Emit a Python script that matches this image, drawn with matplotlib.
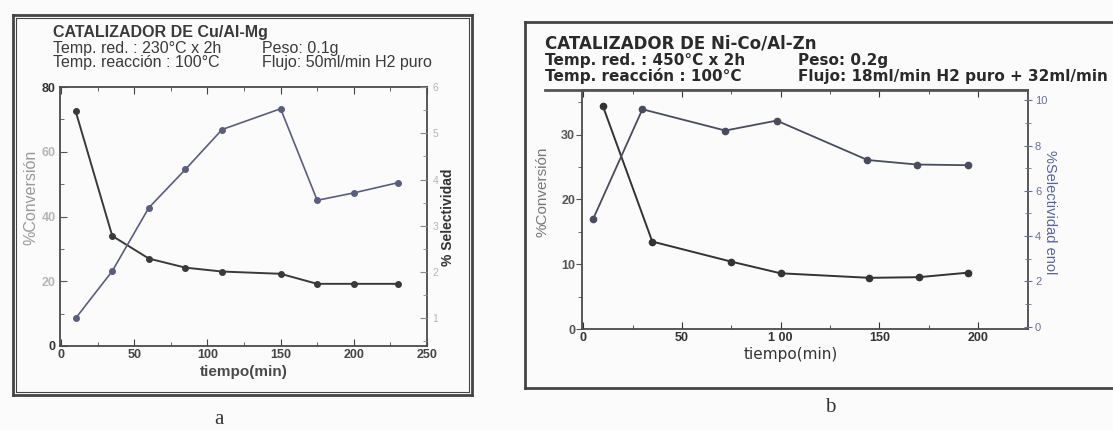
import matplotlib
matplotlib.use("Agg")
import matplotlib.pyplot as plt
from matplotlib.lines import Line2D
from matplotlib.ticker import MultipleLocator

plt.rcParams['font.family'] = ['Liberation Sans', 'DejaVu Sans']

# ---- Data: chart a (Cu/Al-Mg) ----
a_time_conv = [10, 35, 60, 85, 110, 150, 175, 200, 230]
a_conversion = [72.5, 34.0, 27.0, 24.2, 23.0, 22.3, 19.2, 19.2, 19.2]
a_time_sel = [10, 35, 60, 85, 110, 150, 175, 200, 230]
a_selectivity = [1.0, 2.02, 3.39, 4.22, 5.08, 5.53, 3.55, 3.71, 3.93]

# ---- Data: chart b (Ni-Co/Al-Zn) ----
b_time_conv = [10, 35, 75, 100, 145, 170, 195]
b_conversion = [34.4, 13.5, 10.4, 8.6, 7.9, 8.0, 8.7]
b_time_sel = [5, 30, 72, 98, 144, 169, 195]
b_selectivity = [4.75, 9.6, 8.66, 9.1, 7.36, 7.16, 7.13]

a_header = ["CATALIZADOR DE Cu/Al-Mg",
            "Temp. red. : 230°C x 2h", "Temp. reacción : 100°C",
            "Peso: 0.1g", "Flujo: 50ml/min H2 puro"]
b_header = ["CATALIZADOR DE Ni-Co/Al-Zn",
            "Temp. red. : 450°C x 2h", "Temp. reacción : 100°C",
            "Peso: 0.2g", "Flujo: 18ml/min H2 puro + 32ml/min"]

W, H = 1113, 430
fig = plt.figure(figsize=(W / 100, H / 100), dpi=100)
fig.patch.set_facecolor('#fbfbfb')

WIDE = ['DejaVu Sans']


def fx(px):
    return px / W


def fy(py):
    return 1 - py / H


def axes_px(l, r, t, b):
    return [fx(l), fy(b), (r - l) / W, (b - t) / H]


def hline(x0, x1, y, lw=1.5, c='#555555'):
    fig.add_artist(Line2D([fx(x0), fx(x1)], [fy(y), fy(y)], transform=fig.transFigure, lw=lw, color=c))


def vline(x, y0, y1, lw=1.5, c='#555555'):
    fig.add_artist(Line2D([fx(x), fx(x)], [fy(y0), fy(y1)], transform=fig.transFigure, lw=lw, color=c))


# ---------------- Chart a ----------------
for off, lw in [(0, 2.0), (3, 0.8)]:
    hline(13 + off, 472 - off, 15 + off, lw, '#444444')
    hline(13 + off, 472 - off, 395 - off, lw, '#444444')
    vline(13 + off, 15 + off, 395 - off, lw, '#444444')
    vline(472 - off, 15 + off, 395 - off, lw, '#444444')

ca = '#3a3a3a'
fig.text(fx(53), fy(32), a_header[0], fontsize=11.5, fontweight='bold', color=ca, va='center')
fig.text(fx(53), fy(48), a_header[1], fontsize=11.5, color=ca, va='center')
fig.text(fx(53), fy(63), a_header[2], fontsize=11.5, color=ca, va='center')
fig.text(fx(262), fy(48), a_header[3], fontsize=11.5, color=ca, va='center')
fig.text(fx(262), fy(63), a_header[4], fontsize=11.5, color=ca, va='center')

axa = fig.add_axes(axes_px(60, 427, 87, 346))
axa.set_facecolor('none')
axa.plot(a_time_conv, a_conversion, '-o', color='#3a3a3a', lw=1.4, ms=4)
axa.set_xlim(-0.7, 250)
axa.set_ylim(0, 80)
axa.xaxis.set_major_locator(MultipleLocator(50))
axa.xaxis.set_minor_locator(MultipleLocator(25))
axa.yaxis.set_minor_locator(MultipleLocator(10))
axa.tick_params(axis='x', which='both', direction='in', top=True, labelsize=9, colors='#444444', pad=2)
axa.tick_params(axis='x', which='major', length=5)
axa.tick_params(axis='x', which='minor', length=3)
axa.tick_params(axis='y', which='both', direction='in', labelsize=9, colors='#555555', pad=3)
axa.tick_params(axis='y', which='major', length=5)
axa.tick_params(axis='y', which='minor', length=3)
axa.set_yticks([0, 20, 40, 60, 80])
for lab in axa.get_xticklabels():
    lab.set_fontweight('bold')
for lab, v in zip(axa.get_yticklabels(), [0, 20, 40, 60, 80]):
    lab.set_fontweight('bold')
    lab.set_color('#333333' if v in (0, 80) else '#b5b5b5')
for sp in axa.spines.values():
    sp.set_color('#4a4a4a')
    sp.set_linewidth(1.3)
axa.set_xlabel('tiempo(min)', fontsize=11, fontweight='bold', color='#4a4a4a', labelpad=3)
axa.set_ylabel('%Conversión', fontsize=11.5, color='#999999')
axa.yaxis.set_label_coords(-0.058, 0.575)

axa2 = axa.twinx()
axa2.plot(a_time_sel, a_selectivity, '-o', color='#5a5d7e', lw=1.2, ms=4)
axa2.set_ylim(0.4, 6)
axa2.yaxis.set_major_locator(MultipleLocator(1))
axa2.yaxis.set_minor_locator(MultipleLocator(0.5))
axa2.tick_params(axis='y', which='both', direction='in', labelsize=7.5, colors='#b5b5b5', pad=4)
axa2.tick_params(axis='y', which='major', length=5)
axa2.tick_params(axis='y', which='minor', length=3)
axa2.tick_params(axis='y', which='both', color='#888888')
for sp in axa2.spines.values():
    sp.set_visible(False)
axa2.set_ylabel('% Selectividad', fontsize=10, fontweight='bold', color='#333333', rotation=90)
axa2.yaxis.set_label_coords(1.038, 0.498)

fig.text(fx(219), fy(420), 'a', fontsize=15, color='#333333', ha='center', va='center',
         family=['Liberation Serif', 'DejaVu Serif'])

# ---------------- Chart b ----------------
hline(525, 1113, 22, 2.0, '#444444')
hline(525, 1113, 388, 2.0, '#444444')
vline(525, 22, 388, 2.0, '#444444')

cb = '#2a2a2a'
fig.text(fx(545), fy(43), b_header[0], fontsize=12, fontweight='bold', color=cb, va='center', family=WIDE)
fig.text(fx(545), fy(60), b_header[1], fontsize=11, fontweight='bold', color=cb, va='center', family=WIDE)
fig.text(fx(545), fy(76), b_header[2], fontsize=11, fontweight='bold', color=cb, va='center', family=WIDE)
fig.text(fx(798), fy(60), b_header[3], fontsize=11, fontweight='bold', color=cb, va='center', family=WIDE)
fig.text(fx(798), fy(76), b_header[4], fontsize=11, fontweight='bold', color=cb, va='center', family=WIDE)
hline(545, 1026, 90, 2.0, '#555555')

axb = fig.add_axes(axes_px(582, 1028, 90, 329))
axb.set_facecolor('none')
axb.plot(b_time_conv, b_conversion, '-o', color='#333333', lw=1.4, ms=4.5)
axb.set_xlim(-0.6, 225.3)
axb.set_ylim(0, 36.9)
axb.xaxis.set_minor_locator(MultipleLocator(25))
axb.yaxis.set_major_locator(MultipleLocator(10))
axb.yaxis.set_minor_locator(MultipleLocator(5))
axb.tick_params(axis='x', which='both', direction='in', top=True, labelsize=9, colors='#333333', pad=2)
axb.tick_params(axis='x', which='major', length=5)
axb.tick_params(axis='x', which='minor', length=3)
axb.tick_params(axis='y', which='both', direction='out', labelsize=9, colors='#555555', pad=1)
axb.tick_params(axis='y', which='major', length=4)
axb.tick_params(axis='y', which='minor', length=3)
axb.set_xticks([0, 50, 100, 150, 200])
axb.set_xticklabels(['0', '50', '1 00', '150', '200'])
for lab in axb.get_xticklabels():
    lab.set_fontweight('bold')
for lab in axb.get_yticklabels():
    lab.set_fontweight('bold')
for sp in axb.spines.values():
    sp.set_color('#4a4a4a')
    sp.set_linewidth(1.3)
axb.set_xlabel('tiempo(min)', fontsize=11, color='#333333', family=WIDE)
axb.xaxis.set_label_coords(0.469, -0.075)
axb.set_ylabel('%Conversión', fontsize=11, color='#777777')
axb.yaxis.set_label_coords(-0.072, 0.573)

axb2 = axb.twinx()
axb2.plot(b_time_sel, b_selectivity, '-o', color='#4a4c5e', lw=1.3, ms=4.5)
axb2.set_ylim(-0.1, 10.45)
axb2.yaxis.set_minor_locator(MultipleLocator(1))
axb2.set_yticks([0, 2, 4, 6, 8, 10])
axb2.set_yticklabels(['0', '2', '4', '6', '8', '10'])
axb2.tick_params(axis='y', which='both', direction='inout', labelsize=8, colors='#6670a0', pad=2)
axb2.tick_params(axis='y', which='major', length=6)
axb2.tick_params(axis='y', which='minor', length=4)
for sp in axb2.spines.values():
    sp.set_visible(False)
axb2.set_ylabel('%Selectividad enol', fontsize=10.5, color='#5a64a0', rotation=270, va='center')
axb2.yaxis.set_label_coords(1.049, 0.49)

fig.text(fx(830), fy(408), 'b', fontsize=15, color='#333333', ha='center', va='center',
         family=['Liberation Serif', 'DejaVu Serif'])

fig.savefig('out.png', dpi=100, facecolor=fig.get_facecolor())
